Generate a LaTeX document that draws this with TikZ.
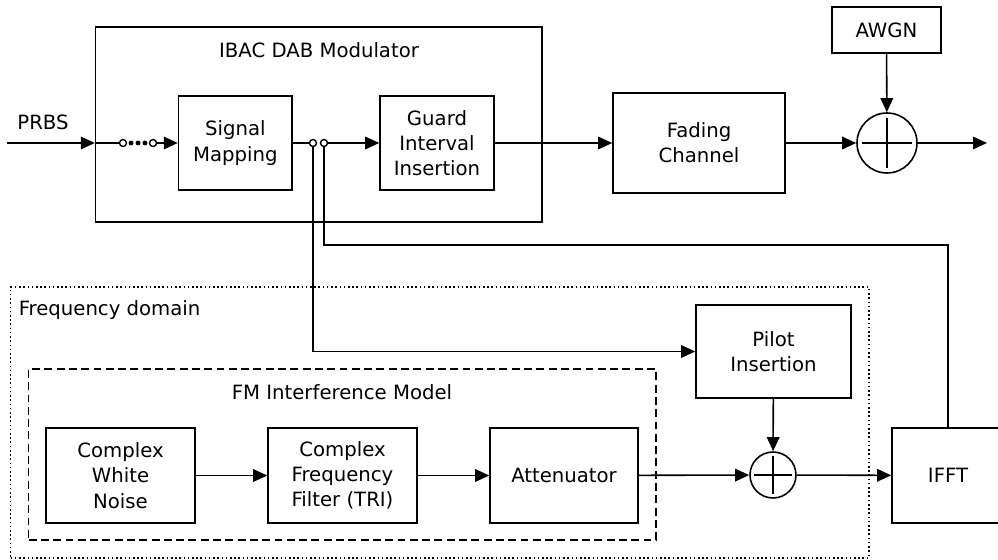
\documentclass[tikz,border=0pt]{standalone}
\usepackage{fontspec}
\setmainfont{DejaVu Sans}
\usetikzlibrary{arrows.meta}

\tikzset{
  blk/.style={draw, line width=0.9pt, align=center, inner sep=0pt},
  sumnode/.style={draw, circle, line width=0.9pt, inner sep=0pt},
  sw/.style={draw, circle, fill=white, line width=0.8pt, inner sep=0pt, minimum size=0.14cm},
  dotbox/.style={draw, line width=0.9pt, dash pattern=on 0.9pt off 1.5pt, inner sep=0pt},
  dashbox/.style={draw, line width=0.9pt, dash pattern=on 4.5pt off 2.5pt, inner sep=0pt},
  arr/.style={-{Triangle[length=0.28cm,width=0.25cm]}},
}

\begin{document}
\begin{tikzpicture}[x=0.02cm, y=-0.02cm, line width=0.9pt, font=\fontsize{11.2}{14.4}\selectfont]
\useasboundingbox (0,0) rectangle (998,560);
\clip (0,0) rectangle (998,560);

%% modulator
\node[blk, minimum width=8.93cm, minimum height=3.9cm] (mod) at (318.85,124.5) {};
\node (modtitle) at (319,50) {IBAC DAB Modulator};
\node[blk, minimum width=2.27cm, minimum height=1.88cm] (map) at (235.3,143) {Signal\\Mapping};
\node[blk, minimum width=2.28cm, minimum height=1.88cm] (guard) at (437,143) {Guard\\Interval\\Insertion};
\node (prbs) at (43,122) {PRBS};

%% switches
\node[sw] (sa) at (123,143) {};
\node[sw] (sb) at (153,143) {};
\node[sw] (sc) at (313,143) {};
\node[sw] (sd) at (324,143) {};
\foreach \x in {131,138,145} \fill (\x,143) circle (1.4pt);

%% channel
\node[blk, minimum width=3.44cm, minimum height=2cm] (fading) at (699,143) {Fading\\Channel};
\node[blk, minimum width=2.18cm, minimum height=0.92cm] (awgn) at (886.5,30) {AWGN};
\node[sumnode, minimum size=1.2cm] (sum1) at (887,143) {};
\draw (sum1.center) ++(-25,0) -- ++(50,0);
\draw (sum1.center) ++(0,-25) -- ++(0,50);

%% frequency domain
\node[dotbox, minimum width=17.17cm, minimum height=5.42cm] (freq) at (439.85,422.5) {};
\node[anchor=west, inner sep=0pt] (freqtitle) at (18,310) {Frequency domain};
\node[dashbox, minimum width=12.55cm, minimum height=3.42cm] (fm) at (342.3,454.5) {};
\node (fmtitle) at (342,392) {FM Interference Model};
\node[blk, minimum width=2.98cm, minimum height=1.9cm] (cwn) at (120.5,475.5) {Complex\\White\\Noise};
\node[blk, minimum width=2.98cm, minimum height=1.9cm] (cff) at (342.5,475.5) {Complex\\Frequency\\Filter (TRI)};
\node[blk, minimum width=2.96cm, minimum height=1.9cm] (att) at (564,475.5) {Attenuator};
\node[blk, minimum width=3.1cm, minimum height=1.86cm] (pilot) at (773.5,351.5) {Pilot\\Insertion};
\node[sumnode, minimum size=0.92cm] (sum2) at (773,475) {};
\draw (sum2.center) ++(-19,0) -- ++(38,0);
\draw (sum2.center) ++(0,-19) -- ++(0,38);
\node[blk, minimum width=2.24cm, minimum height=1.9cm] (ifft) at (948,475.5) {IFFT};

%% free ends
\coordinate (in) at (7,143);
\coordinate (out) at (987,143);
\coordinate (fb) at (948,245);

%% connections
\draw[arr] (in) -- (in -| mod.west);
\draw (in -| mod.west) -- (sa);
\draw[arr] (sb) -- (map);
\draw (map) -- (sc);
\draw[arr] (sd) -- (guard);
\draw[arr] (guard) -- (fading);
\draw[arr] (fading) -- (sum1);
\draw[arr] (awgn) -- (sum1);
\draw[arr] (sum1) -- (out);
\draw[arr] (sc) |- (pilot);
\draw (sd) |- (fb) -- (ifft);
\draw[arr] (cwn) -- (cff);
\draw[arr] (cff) -- (att);
\draw[arr] (att) -- (sum2);
\draw[arr] (pilot) -- (sum2);
\draw[arr] (sum2) -- (ifft);
\end{tikzpicture}
\end{document}
